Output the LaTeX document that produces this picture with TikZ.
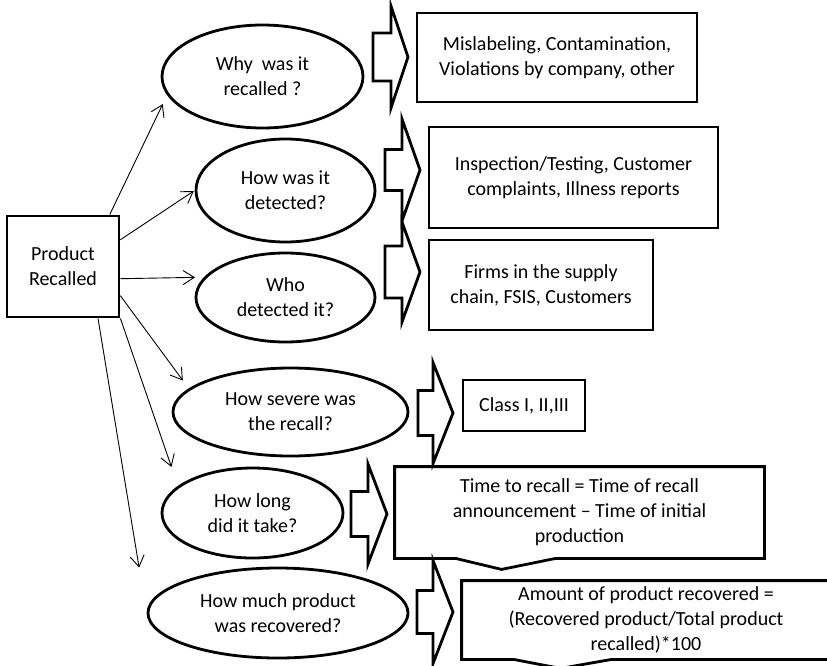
\documentclass[tikz,border=0pt]{standalone}
\usepackage{fontspec}
\setmainfont{Carlito}
\usetikzlibrary{shapes.geometric,arrows.meta,calc}

\begin{document}
\begin{tikzpicture}[
  x=1pt, y=-1pt,
  every node/.style={font=\fontsize{20}{25}\selectfont},
  qnode/.style={ellipse, draw, line width=2.8pt, inner sep=0pt, align=center},
  ansbox/.style={rectangle, draw, line width=2.8pt, inner sep=0pt, align=center},
  callbox/.style={ansbox, draw=none},
  blockarr/.style={draw, line width=2.8pt},
  link/.style={-{Straight Barb[length=11pt,width=14pt]}, line width=0.9pt}
]
\useasboundingbox (0,0) rectangle (827,665);

% Recalled product
\node[ansbox, minimum width=112pt, minimum height=101pt] (prod) at (63,266.5) {Product\\Recalled};

% Questions
\node[qnode, minimum width=201pt, minimum height=103pt] (why) at (262.5,76.5) {Why~ was it\\recalled ?};
\node[qnode, minimum width=179pt, minimum height=103pt] (how) at (285.5,190.5) {How was it\\detected?};
\node[qnode, minimum width=179pt, minimum height=89pt] (who) at (285.5,297.5) {Who\\detected it?};
\node[qnode, minimum width=235pt, minimum height=88pt] (sev) at (290.5,412) {How severe was\\the recall?};
\node[qnode, minimum width=181pt, minimum height=90pt] (long) at (252.5,513) {How long\\did it take?};
\node[qnode, minimum width=260pt, minimum height=90pt] (much) at (278,613) {How much product\\was recovered?};

% Answers
\node[ansbox, minimum width=280pt, minimum height=89pt] (whyans) at (557,57.5) {Mislabeling, Contamination,\\Violations by company, other};
\node[ansbox, minimum width=289pt, minimum height=101pt] (howans) at (573.5,177.5) {Inspection/Testing, Customer\\complaints, Illness reports};
\node[ansbox, minimum width=224pt, minimum height=90pt] (whoans) at (541,285) {Firms in the supply\\chain, FSIS, Customers};
\node[ansbox, minimum width=122pt, minimum height=51pt] (sevans) at (524,405.5) {Class I, II,III};
\node[callbox, minimum width=367pt, minimum height=89pt] (longans) at (579.5,512.5) {Time to recall = Time of recall\\announcement – Time of initial\\production};
\node[callbox, minimum width=366pt, minimum height=76pt] (muchans) at (646,620) {Amount of product recovered =\\(Recovered product/Total product\\recalled)*100};

% Callout outlines
\draw[blockarr] (longans.south west) -- (longans.north west) -- (longans.north east) -- (longans.south east)
  -- ($(longans.south west)+(161,0)$) -- ($(longans.south west)+(107,11)$) -- ($(longans.south west)+(61,0)$) -- cycle;
\draw[blockarr] (muchans.south west) -- (muchans.north west) -- (muchans.north east) -- (muchans.south east)
  -- ($(muchans.south west)+(150,0)$) -- ($(muchans.south west)+(99,9)$) -- ($(muchans.south west)+(52,0)$) -- cycle;

% Block arrows
\foreach \xa/\xb/\xc/\yc/\hs/\hh in {373/391/408/57/24/51, 385/402/420/170/20.5/51,
    385/402/420/272/26/50, 418/433/453/413/22.5/50.5, 351/368/387/514/22.5/50, 417/433/453/612/21.5/51.5}
  \draw[blockarr] (\xa,\yc-\hs) -- (\xb,\yc-\hs) -- (\xb,\yc-\hh) -- (\xc,\yc)
    -- (\xb,\yc+\hh) -- (\xb,\yc+\hs) -- (\xa,\yc+\hs) -- cycle;

% Links
\draw[link, shorten >=10pt] (prod.48) -- (why.191);
\draw[link, shorten >=1pt] (prod.25) -- (how.west);
\draw[link, shorten >=9pt] (prod.-12) -- (who.166);
\draw[link, shorten >=10pt] (prod.-27) -- (sev.167);
\draw[link, shorten >=20pt] (prod.south east) -- (long.160);
\draw[link, shorten >=46pt] (prod.-56) -- (much.west);

\end{tikzpicture}
\end{document}
